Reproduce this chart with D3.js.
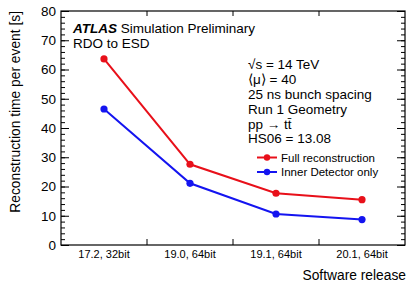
<!DOCTYPE html>
<html><head><meta charset="utf-8">
<script src="https://cdn.jsdelivr.net/npm/d3@7"></script>
<style>
body{margin:0;background:#fff;}
text{font-family:"Liberation Sans",Arial,Helvetica,sans-serif;fill:#000;}
</style></head>
<body><svg id="c" width="414" height="287"></svg>
<script>
const categories = ["17.2, 32bit","19.0, 64bit","19.1, 64bit","20.1, 64bit"];
const fullReco = [63.6, 27.6, 17.7, 15.5];
const idOnly = [46.5, 21.1, 10.6, 8.7];
const yMajor = [0,10,20,30,40,50,60,70,80];
const yMinor = d3.range(0, 81, 2);
const infoLines = ["√s = 14 TeV","⟨μ⟩ = 40","25 ns bunch spacing","Run 1 Geometry","pp → tt\u0304","HS06 = 13.08"];
const series = [
  {name:"Full reconstruction", values: fullReco, color:"#e8101a"},
  {name:"Inner Detector only", values: idOnly, color:"#1414f0"}
];

const svg = d3.select("#c");
const L=61, R=405, T=11, B=245;
const x = d3.scaleBand().domain(categories).range([L,R]).padding(0);
const y = d3.scaleLinear().domain([0,80]).range([B,T]);

// minor ticks left & right
svg.append("g").attr("transform",`translate(${L},0)`)
  .call(d3.axisLeft(y).tickValues(yMinor).tickSizeInner(-4).tickSizeOuter(0).tickFormat(""))
  .call(g=>g.select(".domain").remove());
svg.append("g").attr("transform",`translate(${R},0)`)
  .call(d3.axisRight(y).tickValues(yMinor).tickSizeInner(-4).tickSizeOuter(0).tickFormat(""))
  .call(g=>g.select(".domain").remove());
// major ticks
svg.append("g").attr("transform",`translate(${L},0)`)
  .call(d3.axisLeft(y).tickValues(yMajor).tickSizeInner(-8).tickSizeOuter(0).tickPadding(5).tickFormat(d3.format("d")))
  .call(g=>g.select(".domain").remove())
  .call(g=>g.selectAll("text").attr("x",-5).style("font-size","13.5px").style("font-family","Liberation Sans, Arial, sans-serif"));
svg.append("g").attr("transform",`translate(${R},0)`)
  .call(d3.axisRight(y).tickValues(yMajor).tickSizeInner(-8).tickSizeOuter(0).tickFormat(""))
  .call(g=>g.select(".domain").remove());

// x labels
svg.append("g").attr("transform",`translate(0,${B})`)
  .call(d3.axisBottom(x).tickSize(0).tickPadding(5))
  .call(g=>g.select(".domain").remove())
  .call(g=>g.selectAll("text").style("font-size","11px").style("font-family","Liberation Sans, Arial, sans-serif"));
// category boundary ticks
const bounds = categories.slice(1).map(c=>x(c));
svg.append("g").selectAll("line.bt").data(bounds).join("line")
  .attr("x1",d=>d).attr("x2",d=>d).attr("y1",B).attr("y2",B-6).attr("stroke","#000");
svg.append("g").selectAll("line.tt").data(bounds).join("line")
  .attr("x1",d=>d).attr("x2",d=>d).attr("y1",T).attr("y2",T+5).attr("stroke","#000");

// frame
svg.append("rect").attr("x",L).attr("y",T).attr("width",R-L).attr("height",B-T)
  .attr("fill","none").attr("stroke","#000").attr("stroke-width",1.2);

// series
const line = d3.line().x((d,i)=>x(categories[i])+x.bandwidth()/2).y(d=>y(d));
series.forEach(s=>{
  svg.append("path").datum(s.values).attr("d",line).attr("fill","none")
    .attr("stroke",s.color).attr("stroke-width",2);
  svg.append("g").selectAll("circle").data(s.values).join("circle")
    .attr("cx",(d,i)=>x(categories[i])+x.bandwidth()/2).attr("cy",d=>y(d))
    .attr("r",3.6).attr("fill",s.color);
});

// axis titles
svg.append("text").attr("transform","translate(20,11) rotate(-90)")
  .attr("text-anchor","end").style("font-size","13.8px").text("Reconstruction time per event [s]");
svg.append("text").attr("x",406).attr("y",280).attr("text-anchor","end")
  .style("font-size","13.8px").text("Software release");

// ATLAS label
const at = svg.append("text").attr("x",73).attr("y",33).style("font-size","13.5px");
at.append("tspan").style("font-weight","bold").style("font-style","italic").text("ATLAS");
at.append("tspan").text(" Simulation Preliminary");
svg.append("text").attr("x",73).attr("y",48).style("font-size","13.5px").text("RDO to ESD");

// info lines
svg.append("g").selectAll("text").data(infoLines).join("text")
  .attr("x",248).attr("y",(d,i)=>69.3+i*14.8).style("font-size","13.5px").text(d=>d);

// legend
const leg = svg.append("g").selectAll("g").data(series).join("g")
  .attr("transform",(d,i)=>`translate(0,${157.5+i*14.5})`);
leg.append("line").attr("x1",257).attr("x2",277).attr("stroke",d=>d.color).attr("stroke-width",2);
leg.append("circle").attr("cx",267).attr("r",3.2).attr("fill",d=>d.color);
leg.append("text").attr("x",281).attr("y",4).style("font-size","11.5px").text(d=>d.name);
</script></body></html>
